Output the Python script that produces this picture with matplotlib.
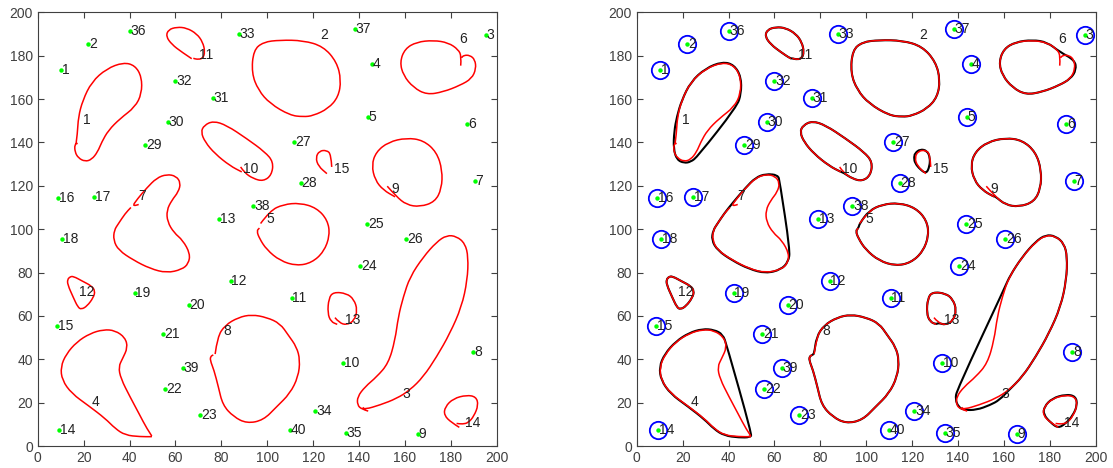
import matplotlib.pyplot as plt
from matplotlib.path import Path
from matplotlib.patches import PathPatch

plt.rcParams['font.family'] = ['Liberation Sans', 'DejaVu Sans']

# sample points (numbered 1..40)
pt_x = [10.2, 22.1, 195.2, 145.7, 143.8, 187.1, 190.5, 189.8, 165.6, 133.0,
        110.7, 84.1, 79.0, 9.4, 8.4, 9.0, 24.5, 10.6, 42.2, 65.9,
        54.7, 55.5, 70.9, 140.6, 143.5, 160.5, 111.8, 114.7, 46.9, 56.6,
        76.2, 60.0, 87.6, 121.0, 134.2, 40.0, 138.3, 93.9, 63.3, 109.8]
pt_y = [173.3, 185.3, 189.7, 176.2, 151.8, 148.4, 122.1, 43.3, 5.4, 38.2,
        68.4, 76.2, 104.6, 7.5, 55.3, 114.3, 114.9, 95.4, 70.7, 64.8,
        51.8, 26.3, 14.4, 83.1, 102.3, 95.3, 140.4, 121.1, 138.6, 149.4,
        160.7, 168.2, 189.9, 16.1, 6.0, 191.4, 192.5, 110.9, 36.1, 7.5]

# hand traced contours (red)
red_1 = [(16.7, 139.4), (17.3, 144.1), (17.7, 151.7), (19.6, 159.4), (23.5, 167.9), (30.0, 174.0),
         (37.3, 176.9), (42.4, 175.5), (45.3, 170.2), (45.3, 162.5), (42.4, 156.3), (35.9, 151.0),
         (30.8, 145.6), (27.9, 140.2), (26.1, 135.6), (23.5, 132.1), (20.6, 131.2), (17.7, 132.8),
         (16.2, 135.6), (16.1, 139.1), (17.4, 139.6)]
red_2 = [(98.3, 186.3), (105.6, 187.2), (115.7, 187.0), (124.4, 184.3), (130.3, 177.1), (132.2, 168.7),
         (131.0, 161.0), (126.6, 155.6), (120.0, 152.3), (115.7, 151.8), (109.9, 152.5), (101.2, 157.9),
         (96.1, 164.1), (93.2, 172.0), (94.0, 182.5), (98.3, 186.3)]
red_3 = [(144.0, 16.1), (141.1, 17.0), (139.3, 18.9), (139.3, 22.7), (142.6, 27.3), (147.7, 31.9),
         (152.8, 38.1), (155.7, 48.8), (157.1, 59.6), (159.3, 68.8), (162.2, 78.0), (168.0, 87.2),
         (173.8, 94.1), (178.2, 97.2), (182.5, 96.7), (186.2, 93.4), (187.6, 87.2), (187.2, 76.5),
         (184.7, 64.2), (179.6, 51.9), (173.8, 41.1), (168.0, 31.9), (162.2, 25.8), (156.4, 21.9),
         (149.1, 18.9), (142.6, 16.9), (141.6, 17.8)]
red_4 = [(49.7, 4.6), (47.5, 8.1), (44.3, 14.6), (40.2, 22.7), (36.2, 31.1), (35.2, 36.5),
         (37.0, 40.4), (39.2, 45.4), (38.1, 50.0), (33.7, 53.3), (28.6, 53.7), (22.8, 51.9),
         (17.0, 48.0), (12.4, 42.4), (10.0, 36.5), (10.6, 30.4), (14.8, 24.2), (22.1, 18.6),
         (29.4, 12.7), (33.7, 8.1), (38.1, 5.0), (44.6, 4.3), (49.7, 4.3)]
red_5 = [(97.1, 102.6), (101.2, 108.5), (107.0, 111.4), (114.3, 112.1), (121.5, 109.8), (126.3, 104.2),
         (127.3, 97.2), (124.7, 89.6), (119.4, 84.5), (112.8, 83.1), (105.6, 85.4), (99.7, 90.6),
         (96.6, 95.7), (95.4, 99.2), (96.6, 100.5)]
red_6 = [(184.3, 175.4), (184.6, 179.7), (183.3, 182.8), (178.9, 186.0), (172.4, 187.1), (165.1, 186.3),
         (160.0, 183.2), (157.8, 177.1), (159.3, 170.9), (163.7, 165.3), (169.5, 162.0), (176.7, 163.3),
         (184.0, 166.3), (189.1, 169.4), (191.0, 174.0), (190.5, 178.2), (188.3, 180.2), (185.7, 180.2),
         (184.7, 179.1)]
red_7 = [(44.0, 111.4), (41.0, 110.2), (43.4, 113.9), (47.5, 119.0), (51.8, 123.6), (56.2, 125.3),
         (60.3, 124.5), (62.3, 121.3), (61.3, 117.2), (58.4, 113.3), (56.2, 108.7), (56.5, 103.4),
         (59.4, 98.3), (63.2, 94.9), (66.4, 88.7), (65.7, 84.1), (62.8, 81.4), (56.2, 79.8),
         (49.0, 81.8), (41.7, 85.7), (35.2, 90.3), (33.0, 94.9), (33.3, 99.5), (35.2, 102.6),
         (38.1, 107.2), (40.6, 110.0)]
red_8 = [(77.3, 42.4), (78.3, 50.3), (81.6, 55.7), (87.4, 59.3), (93.2, 60.6), (99.8, 59.3),
         (105.6, 56.5), (109.2, 51.1), (112.8, 45.7), (114.3, 39.6), (113.5, 31.9), (109.9, 24.2),
         (104.1, 18.1), (98.3, 11.9), (91.1, 10.4), (85.3, 13.5), (80.6, 18.9), (78.7, 27.3),
         (76.8, 35.0), (75.1, 39.6), (75.4, 41.4), (76.5, 42.0)]
red_9 = [(152.3, 119.8), (156.1, 115.2), (160.7, 111.2), (166.6, 110.3), (173.1, 112.6), (176.0, 118.7),
         (176.3, 127.2), (173.8, 135.6), (168.0, 141.0), (160.7, 142.1), (152.8, 140.2), (147.4, 135.6),
         (145.5, 129.5), (147.0, 122.6), (150.6, 118.0), (155.7, 114.9)]
red_10 = [(88.4, 128.7), (90.0, 126.1), (93.9, 123.3), (98.3, 122.1), (101.9, 124.9), (102.7, 131.0),
          (99.0, 135.6), (91.0, 141.8), (82.3, 147.9), (76.5, 149.9), (72.5, 147.9), (71.1, 144.8),
          (72.9, 140.2), (77.2, 134.8), (83.8, 129.2), (88.9, 126.4)]
red_11 = [(67.1, 178.6), (62.7, 181.7), (58.4, 185.2), (55.9, 188.9), (56.9, 192.0), (60.6, 193.2),
          (64.9, 192.8), (69.3, 190.1), (71.9, 186.3), (72.9, 181.7), (71.9, 178.6), (69.3, 178.3),
          (67.8, 178.8)]
red_12 = [(14.0, 78.0), (15.5, 78.3), (19.5, 76.0), (23.5, 73.8), (25.0, 71.5), (24.3, 68.5),
          (21.5, 64.5), (19.0, 63.0), (17.5, 64.0), (15.5, 68.5), (13.0, 74.5), (13.0, 76.8), (14.0, 78.0)]
red_13 = [(129.5, 59.2), (131.4, 56.8), (134.6, 55.8), (137.9, 57.8), (139.3, 62.7), (137.8, 67.6),
          (134.6, 70.4), (128.8, 71.0), (126.8, 68.1), (126.3, 61.2), (127.8, 57.3), (130.5, 56.1)]
red_14 = [(183.7, 8.6), (180.4, 10.7), (177.0, 14.2), (177.5, 18.1), (181.1, 21.9), (186.9, 23.5),
          (191.0, 22.7), (192.0, 18.9), (190.1, 13.8), (187.6, 10.7), (185.1, 10.1), (182.5, 10.4)]
red_15 = [(128.1, 128.7), (127.8, 134.5), (125.9, 136.4), (122.7, 136.1), (121.1, 133.0), (122.3, 129.0),
          (126.0, 125.6)]

# closed outlines (black, right panel)
black_1 = [(16.0, 137.0), (16.3, 145.0), (17.5, 152.0), (19.6, 159.4), (23.5, 167.9), (30.0, 174.2),
           (37.3, 177.2), (42.4, 175.8), (45.5, 170.2), (45.5, 162.5), (43.6, 156.5), (26.5, 133.5),
           (23.5, 131.0), (20.6, 130.5), (17.5, 132.0), (16.0, 137.0)]
black_3 = [(139.5, 25.8), (138.8, 21.5), (140.2, 18.0), (142.6, 16.6), (148.0, 16.6), (154.0, 18.9),
           (158.0, 21.2), (162.2, 25.8), (168.0, 31.9), (173.8, 41.1), (179.6, 51.9), (184.7, 64.2),
           (187.2, 76.5), (187.6, 87.2), (186.2, 93.4), (182.5, 96.8), (178.2, 97.4), (173.8, 94.3),
           (168.0, 87.3), (162.6, 78.5), (160.5, 73.4), (139.5, 25.8)]
black_4 = [(50.1, 5.5), (49.5, 4.0), (44.6, 3.9), (38.1, 4.8), (33.7, 7.8), (29.4, 12.4),
           (22.1, 18.4), (14.8, 24.0), (10.6, 30.3), (9.8, 36.5), (12.2, 42.5), (17.0, 48.2),
           (22.8, 52.2), (28.6, 54.0), (33.7, 53.6), (37.5, 51.5), (39.2, 46.5), (50.1, 5.5)]
black_6 = [(157.8, 177.1), (160.0, 183.2), (165.1, 186.3), (172.4, 187.3), (178.9, 186.2), (184.2, 181.8),
           (190.9, 177.9), (191.5, 173.5), (189.1, 169.4), (184.0, 166.3), (176.7, 163.3), (169.5, 162.0),
           (163.7, 165.3), (159.3, 170.9), (157.8, 177.1)]
black_7 = [(61.5, 125.0), (62.3, 122.0), (66.8, 90.3), (66.1, 85.0), (62.8, 81.3), (56.2, 79.6),
           (49.0, 81.6), (41.7, 85.5), (35.2, 90.2), (32.6, 95.0), (33.3, 99.5), (35.2, 102.6),
           (38.1, 107.2), (41.7, 112.0), (47.5, 119.2), (51.8, 123.8), (56.2, 125.5), (61.5, 125.0)]
black_14 = [(183.7, 8.2), (180.4, 10.7), (177.2, 14.5), (177.5, 18.1), (181.0, 22.0), (186.9, 23.8),
            (191.2, 23.0), (192.0, 18.9), (190.0, 14.0), (187.0, 10.5), (183.7, 8.2)]
black_15 = [(121.2, 135.0), (123.5, 136.9), (126.5, 136.2), (127.8, 133.0), (127.6, 129.0), (126.2, 125.6),
            (123.5, 127.5), (121.2, 130.5), (120.8, 133.0), (121.2, 135.0)]

# contour number label positions
shape_lx = [19.9, 123.3, 158.9, 23.5, 99.5, 183.6, 43.9, 80.9, 154.2, 89.6, 70.4, 17.9, 133.9, 186.2, 129.2]
shape_ly = [150.5, 189.4, 24.2, 20.2, 104.9, 187.8, 115.2, 53.1, 118.7, 127.6, 180.2, 70.8, 58.3, 10.7, 127.6]

reds = [red_1, red_2, red_3, red_4, red_5, red_6, red_7, red_8, red_9, red_10,
        red_11, red_12, red_13, red_14, red_15]


def closed(pts):
    return pts + [pts[0]]


blacks = [black_1, red_2, black_3, black_4, closed(red_5), black_6, black_7,
          closed(red_8), closed(red_9[1:]), closed(red_10[1:]), closed(red_11), red_12,
          closed(red_13[1:]), black_14, black_15]


def mid(a, b):
    return ((a[0] + b[0]) / 2, (a[1] + b[1]) / 2)


def smooth(pts):
    # traced points used as quadratic bezier control points
    if pts[0] == pts[-1]:
        p = pts[:-1]
        n = len(p)
        verts = [mid(p[-1], p[0])]
        codes = [Path.MOVETO]
        for i in range(n):
            verts += [p[i], mid(p[i], p[(i + 1) % n])]
            codes += [Path.CURVE3, Path.CURVE3]
    else:
        verts = [pts[0]]
        codes = [Path.MOVETO]
        for i in range(1, len(pts) - 1):
            verts += [pts[i], mid(pts[i], pts[i + 1])]
            codes += [Path.CURVE3, Path.CURVE3]
        verts.append(pts[-1])
        codes.append(Path.LINETO)
    return Path(verts, codes)


def draw_panel(ax, with_fit):
    if with_fit:
        for c in blacks:
            ax.add_patch(PathPatch(smooth(c), fill=False, ec='black', lw=1.5, zorder=2))
    for c in reds:
        ax.add_patch(PathPatch(smooth(c), fill=False, ec='red', lw=1.1, zorder=3))
    if with_fit:
        ax.plot(pt_x, pt_y, 'o', ms=12.5, mfc='none', mec='blue', mew=1.3, zorder=4)
    ax.plot(pt_x, pt_y, 'o', ms=3.2, color='#00ff00', mec='none', zorder=5)
    for i in range(len(pt_x)):
        ax.text(pt_x[i] + 0.3, pt_y[i], str(i + 1), fontsize=10, color='#222222',
                ha='left', va='center', zorder=6)
    for i in range(len(shape_lx)):
        ax.text(shape_lx[i], shape_ly[i], str(i + 1), fontsize=10, color='#222222',
                ha='left', va='center', zorder=6)
    ax.set_xlim(0, 200)
    ax.set_ylim(0, 200)
    ax.set_xticks(range(0, 201, 20))
    ax.set_yticks(range(0, 201, 20))
    ax.tick_params(direction='in', top=True, right=True, length=4, labelsize=10,
                   colors='#404040', labelcolor='#404040')
    for s in ax.spines.values():
        s.set_color('#404040')
        s.set_linewidth(0.8)


fig = plt.figure(figsize=(11.13, 4.68), dpi=100)
ax1 = fig.add_axes([0.0339, 0.047, 0.4124, 0.9267])
ax2 = fig.add_axes([0.5721, 0.047, 0.4124, 0.9267])
draw_panel(ax1, False)
draw_panel(ax2, True)
fig.savefig('out.png', dpi=100)
